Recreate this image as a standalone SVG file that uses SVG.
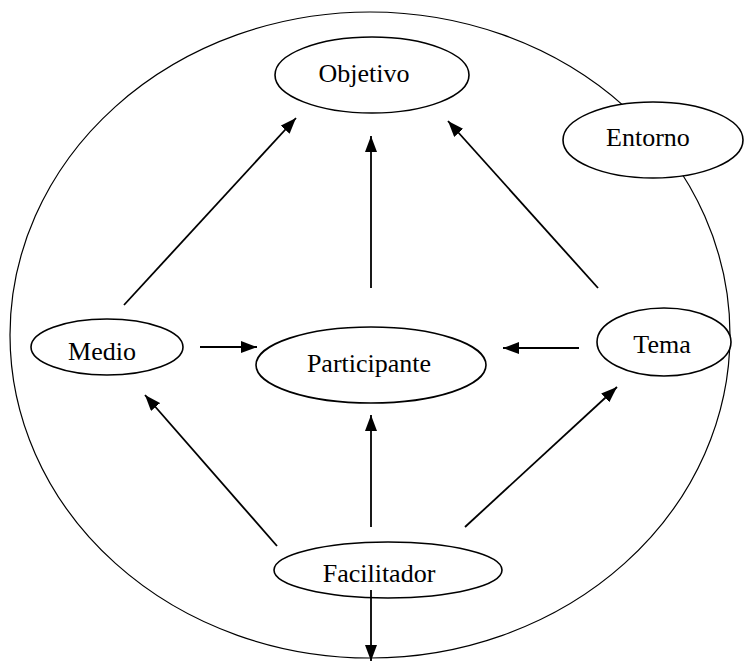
<svg xmlns="http://www.w3.org/2000/svg" width="745" height="661" viewBox="0 0 745 661">
<style>
  .node ellipse { fill: #fff; stroke: #000; stroke-width: 1.6; }
  .node text { font-family: "Liberation Serif", "Times New Roman", serif; font-size: 26px; fill: #000; text-anchor: middle; }
  .edge { stroke: #000; stroke-width: 1.8; fill: none; marker-end: url(#arrow); }
  .plain { stroke: #000; stroke-width: 1.2; fill: none; }
</style>
<defs>
  <marker id="arrow" markerUnits="userSpaceOnUse" markerWidth="16" markerHeight="12" refX="16" refY="6" orient="auto">
    <path d="M0,0 L16,6 L0,12 z" fill="#000"/>
  </marker>
</defs>
<rect width="745" height="661" fill="#fff"/>
<ellipse id="boundary" class="plain" cx="370" cy="335" rx="360" ry="323"/>
<g id="entorno" class="node">
  <ellipse cx="653" cy="140" rx="90" ry="38"/>
  <text x="648" y="146">Entorno</text>
</g>
<g id="objetivo" class="node">
  <ellipse cx="372" cy="75" rx="97" ry="38"/>
  <text x="364" y="82">Objetivo</text>
</g>
<g id="medio" class="node">
  <ellipse cx="107" cy="347" rx="76" ry="28"/>
  <text x="102" y="360">Medio</text>
</g>
<g id="participante" class="node">
  <ellipse cx="371" cy="365" rx="115" ry="38"/>
  <text x="369" y="372">Participante</text>
</g>
<g id="tema" class="node">
  <ellipse cx="664" cy="342" rx="67" ry="34"/>
  <text x="662" y="353">Tema</text>
</g>
<g id="facilitador" class="node">
  <ellipse cx="388" cy="570" rx="114" ry="28"/>
  <text x="379" y="582">Facilitador</text>
</g>
<g id="connectors">
  <line class="edge" x1="124" y1="305" x2="296" y2="118"/>
  <line class="edge" x1="371" y1="288" x2="371" y2="136"/>
  <line class="edge" x1="598" y1="288" x2="448" y2="121"/>
  <line class="edge" x1="200" y1="347" x2="257" y2="347"/>
  <line class="edge" x1="579" y1="348" x2="503" y2="348"/>
  <line class="edge" x1="277" y1="546" x2="145" y2="395"/>
  <line class="edge" x1="371" y1="527" x2="371" y2="415"/>
  <line class="edge" x1="465" y1="527" x2="617" y2="387"/>
  <line class="edge" x1="371" y1="590" x2="371" y2="661"/>
</g>
</svg>
